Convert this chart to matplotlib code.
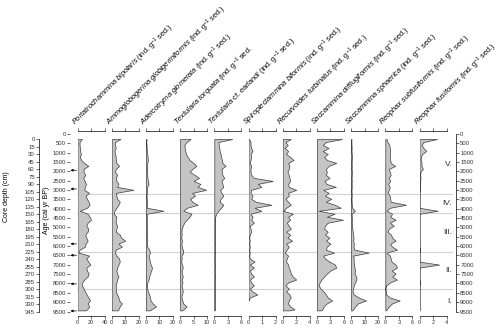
import numpy as np
import matplotlib.pyplot as plt

plt.rcParams['font.family'] = ['Liberation Sans', 'DejaVu Sans']
plt.rcParams['mathtext.fontset'] = 'custom'
plt.rcParams['mathtext.rm'] = 'Liberation Sans'
plt.rcParams['mathtext.it'] = 'Liberation Sans:italic'

# sample ages (cal yr BP)
age = [270, 430, 590, 750, 910, 1070, 1230, 1390, 1550, 1710,
       1870, 2030, 2190, 2350, 2510, 2670, 2830, 2990, 3150, 3310,
       3470, 3630, 3790, 3950, 4110, 4270, 4430, 4590, 4750, 4910,
       5070, 5230, 5390, 5550, 5710, 5870, 6030, 6190, 6350, 6510,
       6670, 6830, 6990, 7150, 7310, 7470, 7630, 7790, 7950, 8110,
       8270, 8430, 8590, 8750, 8910, 9070, 9230, 9390, 9440]

# abundances (ind. g-1 sed.)
p_bipolaris = [6.5, 3, 3, 3.5, 4, 5, 3.5, 5.5, 10, 16,
               9, 9, 11.5, 8.5, 10.5, 12.5, 11, 10, 17, 12,
               14, 16.5, 18, 14, 3.5, 15, 18, 20, 15, 13,
               16, 15, 11.5, 13, 15, 12, 11, 3, 2, 17,
               13, 16, 19, 13, 14, 16.5, 15, 10, 7, 6.5,
               9, 11, 13.5, 16, 18.5, 15, 17.5, 14, 12]
a_globigeriniformis = [6.5, 2.5, 2.5, 3, 2, 2.5, 3, 3, 3.5, 5.5,
                       3, 2.5, 4, 3, 3.5, 5, 4, 16, 3, 3.5,
                       4, 6, 5, 3.5, 2, 1.5, 3.5, 3, 3, 4,
                       3.5, 3, 6, 7, 10, 5, 7.5, 3, 2.5, 3.5,
                       5.5, 6, 5, 4, 3.5, 4, 5, 4, 3.5, 3,
                       3, 3, 4, 5, 5.5, 7.5, 6, 5, 4.5]
a_glomerata = [0.5, 0.3, 0.5, 0.5, 0.8, 1, 1.2, 1.5, 1, 1,
               0.8, 1, 1, 1.2, 1.5, 2, 1, 0.8, 0.7, 0.5,
               0.6, 0.8, 0.7, 0.8, 13, 0.5, 0.8, 0.6, 0.8, 0.7,
               0.7, 1, 0.8, 0.7, 1, 0.8, 1, 2.5, 3, 2,
               2.5, 3, 3.5, 4.5, 4, 3, 2.5, 2, 1, 0.8,
               1, 1.5, 2.5, 3, 3.5, 5, 7.5, 4, 3]
t_torquata = [3.9, 2.4, 1.6, 1.7, 1.9, 2.2, 2.8, 3.5, 5, 6,
              4.5, 3.6, 5.4, 7, 5, 7.5, 6.5, 9.6, 4.5, 5.5,
              3.8, 4.5, 6.5, 2.5, 1.2, 4.2, 3.5, 2.4, 1.5, 1,
              0.6, 0.5, 0.6, 0.4, 0.7, 0.5, 0.6, 1, 1.2, 0.5,
              0.6, 0.4, 0.7, 1, 0.5, 0.7, 1, 0.6, 0.9, 0.5,
              0.8, 1, 0.6, 0.5, 0.8, 1.2, 2.4, 1.2, 0.8]
t_earlandi = [4, 0.9, 1.0, 1.1, 1.2, 1.4, 1.5, 1.7, 1.8, 2.5,
              1.6, 1.7, 1.8, 2.2, 1.6, 1.8, 2.0, 1.3, 1.6, 2.0,
              1.4, 1.2, 2.0, 1.5, 0.9, 0.4, 0.2, 0.15, 0.15, 0.1,
              0.15, 0.1, 0.15, 0.1, 0.1, 0.15, 0.1, 0.1, 0.15, 0.1,
              0.1, 0.1, 0.15, 0.1, 0.1, 0.1, 0.15, 0.1, 0.1, 0.1,
              0.1, 0.1, 0.1, 0.1, 0.1, 0.1, 0.1, 0.1, 0.1]
s_biformis = [0.05, 0.15, 0.15, 0.2, 0.3, 0.15, 0.2, 0.15, 0.1, 0.2,
              0.15, 0.15, 0.2, 0.4, 1.8, 0.7, 0.95, 0.2, 0.15, 0.3,
              0.2, 0.55, 1.7, 0.45, 0.95, 0.15, 0.3, 0.2, 0.4, 0.1,
              0.15, 0.2, 0.1, 0.05, 0.1, 0.05, 0.1, 0.05, 0.1, 0.05,
              0.1, 0.45, 0.1, 0.4, 0.1, 0.2, 0.4, 0.1, 0.2, 0.4,
              0.1, 0.3, 0.65, 0.1, 0.02, None, None, None, None]
r_turbinatus = [1.2, 0.4, 0.75, 0.3, 0.8, 0.5, 1.1, 1.6, 0.8, 1,
                0.9, 0.7, 0.9, 1, 1.1, 0.8, 0.9, 2, 0.8, 0.9,
                0.4, 0.8, 1.2, 0.5, 0.1, 1.5, 0.8, 1.1, 0.6, 0.9,
                1.2, 0.5, 1.1, 0.7, 1.4, 0.5, 0.9, 0.6, 0.3, 0.8,
                0.6, 0.5, 0.8, 0.9, 1.1, 1.2, 1.5, 2, 0.8, 0.4,
                0.9, 0.5, 1, 1.2, 0.9, 0.8, 1.1, 1.75, 1]
s_difflugiformis = [5.6, 2.0, 1.3, 2.6, 1.3, 2.4, 1.6, 2.2, 4.3, 2.6,
                    2.0, 2.2, 2.0, 2.8, 1.7, 2.1, 4.2, 1.4, 2.6, 1.8,
                    3.2, 2.0, 4.0, 5.3, 0.4, 3.9, 2.2, 5.8, 2.4, 1.8,
                    1.6, 2.4, 1.8, 2.8, 2.0, 3.0, 2.2, 2.0, 3.8, 1.4,
                    1.8, 2.8, 4.0, 4.3, 3.0, 2.2, 1.6, 1.0, 0.6, 0.4,
                    0.8, 1.5, 2.0, 2.4, 3.4, 2.2, 1.5, 1.2, 1.0]
s_sphaerica = [0.3, 0.2, 0.3, 0.4, 0.3, 0.5, 0.6, 0.5, 0.4, 0.5,
               0.4, 0.6, 0.5, 0.4, 0.5, 0.4, 0.5, 0.3, 0.4, 0.5,
               0.3, 0.4, 0.5, 0.8, 2.8, 0.4, 0.5, 0.6, 0.5, 0.7,
               0.9, 1.2, 1.5, 1.8, 1.6, 2.0, 1.8, 2.5, 13, 1.5,
               2.0, 1.8, 2.2, 2.5, 3.0, 2.5, 3.8, 4.0, 2.8, 2.0,
               1.5, 1.0, 2.0, 5.5, 11, 5.0, 3.0, 1.5, 1.0]
r_subfusiformis = [0.3, 0.5, 0.9, 1.0, 1.1, 1.0, 1.0, 1.1, 1.2, 2.2,
                   0.8, 1.0, 1.2, 0.8, 1.1, 0.6, 1.0, 0.8, 0.5, 1.0,
                   1.1, 1.2, 4.6, 1.0, 0.3, 1.5, 1.1, 2.3, 1.0, 1.9,
                   0.8, 0.5, 1.3, 1.5, 2.3, 1.1, 1.5, 2.6, 0.3, 1.0,
                   1.2, 1.4, 2.3, 2.6, 1.4, 2.3, 1.5, 2.6, 1.0, 0.2,
                   0.0, 0.1, 0.2, 1.0, 3.2, 1.5, 0.8, 0.3, 0.2]
r_fusiformis = [2.6, 0.6, 0.3, 0.6, 1.0, 0.4, 0.2, 0.2, 0.3, 0.3,
                0.5, 0.15, 0.1, 0.15, 0.1, 0.1, 0.05, 0.05, 0, 0,
                0, 0, 0, 0, 2.7, 0, 0, 0, 0, 0,
                0, 0, 0, 0, 0, 0, 0, 0.1, 0, 0,
                0, 0, 2.9, 0, 0, 0, 0, 0, 0.1, 0,
                0, 0, 0, 0, 0, 0, 0, 0, 0]

species = ['Portatrochammina bipolaris', 'Ammoglobogerina globigeriniformis',
           'Adercotryma glomerata', 'Textularia torquata', 'Textularia cf. earlandi',
           'Spiroplectammina biformis', 'Recurvoides turbinatus',
           'Saccammina difflugiformis', 'Saccammina sphaerica',
           'Reophax subfusiformis', 'Reophax fusiformis']
series = [p_bipolaris, a_globigeriniformis, a_glomerata, t_torquata, t_earlandi,
          s_biformis, r_turbinatus, s_difflugiformis, s_sphaerica,
          r_subfusiformis, r_fusiformis]
x_max = [40, 20, 20, 10, 6, 2, 4, 6, 20, 6, 4]

zone_bounds = [3225, 4241, 6291, 8305]
zone_names = ['V.', 'IV.', 'III.', 'II.', 'I.']
dated_ages = [1940, 2940, 5880, 6490, 8020, 9470]
depth_ticks = list(range(0, 346, 15))

# ---- layout (pixels of a 500x330 image)
W, H = 500, 330
y_top, y_bot = 131, 316
y_age0, px_per_yr = 134, 177.5 / 9500


def fx(px):
    return px / W


def fy(py):
    return 1 - py / H


def age_at(py):
    return (py - y_age0) / px_per_yr


ylim = (age_at(y_bot), age_at(y_top))
fig = plt.figure(figsize=(5, 3.3), dpi=100)

# background: zone lines, age axes, arrows
bg = fig.add_axes([fx(70), fy(y_bot), fx(456 - 70), (y_bot - y_top) / H], zorder=0)
bg.patch.set_alpha(0)
bg.set_xlim(70, 456)
bg.set_ylim(ylim)
for b in zone_bounds:
    bg.plot([77, 452], [b, b], color='#d2d2d2', lw=0.8, zorder=0)
edges = [0] + zone_bounds + [9620]
for i, name in enumerate(zone_names):
    bg.text(452, (edges[i] + edges[i + 1]) / 2, name, ha='right', va='center',
            fontsize=6, color='#333333')
for a in dated_ages:
    bg.annotate('', xy=(70.5, a), xytext=(76.5, a),
                arrowprops=dict(arrowstyle='-|>', lw=0.5, color='k',
                                mutation_scale=3.5, shrinkA=0, shrinkB=0))
bg.set_xticks([])
bg.set_yticks(np.arange(0, 9501, 500))
bg.tick_params(axis='y', left=True, right=True, labelleft=True, labelright=True,
               length=2, width=0.5, labelsize=4.3, pad=1, colors='#333333')
for s in ['left', 'top', 'bottom']:
    bg.spines[s].set_visible(False)
bg.spines['right'].set_bounds(0, 9500)
bg.spines['right'].set_linewidth(0.5)
fig.text(fx(46.5), fy(210), 'Age (cal yr BP)', rotation=90, ha='center', va='center',
         fontsize=5)

# depth axis
dax = fig.add_axes([fx(39), fy(312), fx(1), (312 - 139) / H])
dax.patch.set_alpha(0)
dax.set_ylim(345, 0)
dax.set_yticks(depth_ticks)
dax.set_xticks([])
for s in ['right', 'top', 'bottom']:
    dax.spines[s].set_visible(False)
dax.spines['left'].set_linewidth(0.5)
dax.tick_params(axis='y', length=2, width=0.5, labelsize=4.3, pad=1, colors='#333333')
fig.text(fx(7), fy(197), 'Core depth (cm)', rotation=90, ha='center', va='center',
         fontsize=5)

# species panels
age_arr = np.array(age, dtype=float)
for k, (name, vals, xm) in enumerate(zip(species, series, x_max)):
    left = 77.5 + 34.2 * k
    ax = fig.add_axes([fx(left), fy(y_bot), fx(27), (y_bot - y_top) / H], zorder=2)
    ax.patch.set_alpha(0)
    v = np.array([np.nan if x is None else x for x in vals], dtype=float)
    ok = np.isfinite(v)
    ax.fill_betweenx(age_arr[ok], 0, v[ok], facecolor='#c4c4c4',
                     edgecolor='#3c3c3c', lw=0.5)
    ax.set_xlim(0, xm)
    ax.set_ylim(ylim)
    ax.set_yticks([])
    ax.set_xticks([0, xm / 2, xm])
    ax.set_xticklabels(['0', f'{xm / 2:g}', f'{xm:g}'])
    ax.tick_params(axis='x', top=True, bottom=True, labeltop=False, labelbottom=True,
                   length=2, width=0.5, labelsize=4, pad=1, colors='#333333')
    for s in ['left', 'right']:
        ax.spines[s].set_visible(False)
    for s in ['top', 'bottom']:
        ax.spines[s].set_bounds(0, xm)
        ax.spines[s].set_linewidth(0.5)

    if ' cf. ' in name:
        g, sp = name.split(' cf. ')
        lab = r'$\mathit{' + g + r'}$ cf. $\mathit{' + sp + '}$'
    else:
        lab = r'$\mathit{' + name.replace(' ', r'\ ') + '}$'
    unit = r' (ind. g$^{-1}$ sed.' if name == 'Textularia torquata' else r' (ind. g$^{-1}$ sed.)'
    fig.text(fx(left - 2), fy(126), lab + unit, rotation=45, rotation_mode='anchor',
             ha='left', va='baseline', fontsize=5.3)

fig.savefig('out.png', dpi=100)
